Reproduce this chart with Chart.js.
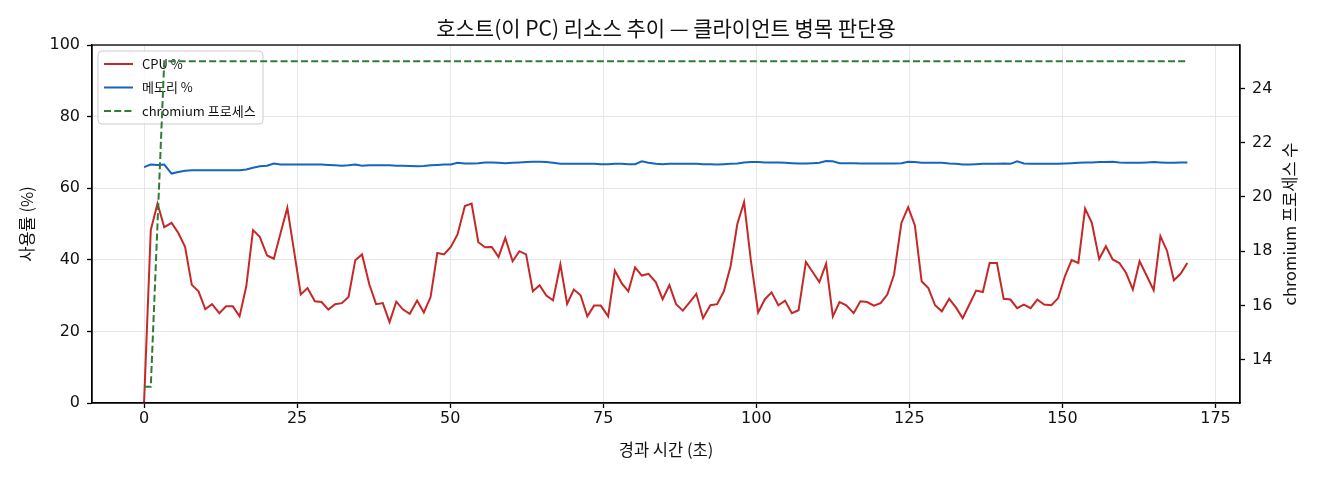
<!DOCTYPE html>
<html>
<head>
<meta charset="utf-8">
<script src="https://cdn.jsdelivr.net/npm/chart.js@4.4.1/dist/chart.umd.min.js"></script>
<style>
  html, body { margin: 0; padding: 0; background: #fff; }
  #wrap { width: 1320px; height: 480px; }
</style>
</head>
<body>
<div id="wrap"><canvas id="c" width="1320" height="480"></canvas></div>
<script>
// ---- data ----
const chartTitle = '호스트(이 PC) 리소스 추이 — 클라이언트 병목 판단용';
const xTitle = '경과 시간 (초)';
const yTitle = '사용률 (%)';
const y2Title = 'chromium 프로세스 수';
const seriesNames = ['CPU %', '메모리 %', 'chromium 프로세스'];

const xTicks = [0, 25, 50, 75, 100, 125, 150, 175];
const yTicks = [0, 20, 40, 60, 80, 100];
const y2Ticks = [14, 16, 18, 20, 22, 24];

const times = [
  0, 1.1, 2.2, 3.3, 4.5, 5.6, 6.7, 7.8, 8.9, 10.0,
  11.1, 12.3, 13.4, 14.5, 15.6, 16.7, 17.8, 18.9, 20.1, 21.2,
  22.3, 23.4, 24.5, 25.6, 26.7, 27.9, 29.0, 30.1, 31.2, 32.3,
  33.4, 34.5, 35.6, 36.8, 37.9, 39.0, 40.1, 41.2, 42.3, 43.4,
  44.6, 45.7, 46.8, 47.9, 49.0, 50.1, 51.2, 52.4, 53.5, 54.6,
  55.7, 56.8, 57.9, 59.0, 60.2, 61.3, 62.4, 63.5, 64.6, 65.7,
  66.8, 68.0, 69.1, 70.2, 71.3, 72.4, 73.5, 74.6, 75.8, 76.9,
  78.0, 79.1, 80.2, 81.3, 82.4, 83.6, 84.7, 85.8, 86.9, 88.0,
  89.1, 90.2, 91.3, 92.5, 93.6, 94.7, 95.8, 96.9, 98.0, 99.1,
  100.3, 101.4, 102.5, 103.6, 104.7, 105.8, 106.9, 108.1, 109.2, 110.3,
  111.4, 112.5, 113.6, 114.7, 115.9, 117.0, 118.1, 119.2, 120.3, 121.4,
  122.5, 123.7, 124.8, 125.9, 127.0, 128.1, 129.2, 130.3, 131.5, 132.6,
  133.7, 134.8, 135.9, 137.0, 138.1, 139.3, 140.4, 141.5, 142.6, 143.7,
  144.8, 145.9, 147.0, 148.2, 149.3, 150.4, 151.5, 152.6, 153.7, 154.8,
  156.0, 157.1, 158.2, 159.3, 160.4, 161.5, 162.6, 163.8, 164.9, 166.0,
  167.1, 168.2, 169.3, 170.4
];

const cpuPct = [
  0, 48.3, 55.7, 49.1, 50.3, 47.5, 43.6, 33.0, 31.2, 26.2,
  27.6, 25.1, 27.0, 27.0, 24.2, 32.6, 48.3, 46.4, 41.2, 40.3,
  47.5, 54.5, 42.5, 30.3, 32.1, 28.4, 28.2, 26.1, 27.6, 27.9,
  29.6, 39.9, 41.5, 33.1, 27.6, 27.9, 22.6, 28.3, 26.1, 24.9,
  28.6, 25.3, 29.6, 41.9, 41.5, 43.6, 47.1, 55.0, 55.7, 44.9,
  43.5, 43.6, 40.8, 46.1, 39.6, 42.4, 41.5, 31.2, 32.9, 30.0,
  28.7, 38.7, 27.7, 31.7, 30.1, 24.2, 27.2, 27.2, 24.2, 37.0,
  33.5, 31.2, 37.9, 35.6, 36.1, 33.7, 29.0, 32.9, 27.6, 25.8,
  28.1, 30.5, 23.7, 27.3, 27.6, 31.2, 38.2, 50.0, 56.1, 40.0,
  25.3, 29.0, 30.9, 27.3, 28.6, 25.1, 25.9, 39.4, 36.6, 33.8,
  38.9, 24.2, 28.2, 27.3, 25.1, 28.4, 28.2, 27.2, 27.9, 30.3,
  35.9, 50.3, 54.7, 49.6, 34.0, 32.1, 27.3, 25.6, 29.1, 26.7,
  23.7, 27.5, 31.4, 31.0, 39.1, 39.1, 29.1, 28.9, 26.5, 27.5,
  26.5, 28.9, 27.5, 27.3, 29.3, 35.4, 39.9, 39.1, 54.3, 50.3,
  40.2, 43.8, 40.1, 39.1, 36.3, 31.7, 39.6, 35.4, 31.5, 46.6,
  42.4, 34.3, 36.1, 39.1
];

const memPct = [
  65.9, 66.6, 66.5, 66.6, 64.1, 64.5, 64.9, 65.0, 65.0, 65.0,
  65.0, 65.0, 65.0, 65.0, 65.0, 65.2, 65.7, 66.1, 66.3, 66.9,
  66.6, 66.6, 66.6, 66.6, 66.6, 66.6, 66.6, 66.5, 66.4, 66.3,
  66.4, 66.6, 66.3, 66.4, 66.4, 66.4, 66.4, 66.3, 66.3, 66.2,
  66.1, 66.2, 66.4, 66.5, 66.6, 66.6, 67.1, 66.9, 66.9, 67.0,
  67.2, 67.2, 67.1, 67.0, 67.1, 67.2, 67.3, 67.4, 67.4, 67.3,
  67.1, 66.8, 66.8, 66.8, 66.8, 66.8, 66.8, 66.7, 66.7, 66.8,
  66.8, 66.7, 66.7, 67.5, 67.1, 66.8, 66.7, 66.8, 66.8, 66.8,
  66.8, 66.8, 66.7, 66.7, 66.6, 66.7, 66.8, 66.9, 67.2, 67.3,
  67.3, 67.2, 67.2, 67.2, 67.1, 67.0, 66.9, 66.9, 67.0, 67.1,
  67.6, 67.5, 67.0, 67.0, 67.0, 66.9, 66.9, 66.9, 66.9, 66.9,
  66.9, 67.0, 67.4, 67.3, 67.1, 67.1, 67.1, 67.1, 66.9, 66.8,
  66.6, 66.6, 66.7, 66.8, 66.8, 66.8, 66.9, 66.8, 67.5, 66.9,
  66.8, 66.8, 66.8, 66.8, 66.8, 66.9, 67.0, 67.1, 67.2, 67.2,
  67.3, 67.3, 67.4, 67.2, 67.1, 67.1, 67.1, 67.2, 67.3, 67.2,
  67.1, 67.1, 67.2, 67.2
];

const chromiumProcs = [
  13, 13, 19, 25, 25, 25, 25, 25, 25, 25,
  25, 25, 25, 25, 25, 25, 25, 25, 25, 25,
  25, 25, 25, 25, 25, 25, 25, 25, 25, 25,
  25, 25, 25, 25, 25, 25, 25, 25, 25, 25,
  25, 25, 25, 25, 25, 25, 25, 25, 25, 25,
  25, 25, 25, 25, 25, 25, 25, 25, 25, 25,
  25, 25, 25, 25, 25, 25, 25, 25, 25, 25,
  25, 25, 25, 25, 25, 25, 25, 25, 25, 25,
  25, 25, 25, 25, 25, 25, 25, 25, 25, 25,
  25, 25, 25, 25, 25, 25, 25, 25, 25, 25,
  25, 25, 25, 25, 25, 25, 25, 25, 25, 25,
  25, 25, 25, 25, 25, 25, 25, 25, 25, 25,
  25, 25, 25, 25, 25, 25, 25, 25, 25, 25,
  25, 25, 25, 25, 25, 25, 25, 25, 25, 25,
  25, 25, 25, 25, 25, 25, 25, 25, 25, 25,
  25, 25, 25, 25
];

// ---- styling ----
const KR = '"Noto Sans CJK KR", "Noto Sans", sans-serif';
const NUM = '"DejaVu Sans", sans-serif';
const COLORS = ['#c62828', '#1565c0', '#2e7d32'];
const DASH = [7, 3.2];
const GRID = '#e6e6e6';
const INK = '#111111';

const toXY = arr => arr.map((v, i) => ({ x: times[i], y: v }));

const fixedTicks = vals => scale => { scale.ticks = vals.map(v => ({ value: v })); };

const framePlugin = {
  id: 'frame',
  afterDatasetsDraw(chart) {
    const { ctx, chartArea: a } = chart;
    ctx.save();
    ctx.strokeStyle = '#000';
    ctx.lineWidth = 1.3;
    ctx.strokeRect(a.left, a.top, a.right - a.left, a.bottom - a.top);
    ctx.restore();
  }
};

const textPlugin = {
  id: 'texts',
  afterDraw(chart) {
    const { ctx, chartArea: a } = chart;
    ctx.save();
    ctx.fillStyle = INK;
    ctx.textAlign = 'center';
    ctx.textBaseline = 'middle';
    ctx.font = '21px ' + KR;
    ctx.fillText(chartTitle, (a.left + a.right) / 2, 28);
    // right axis title, reading bottom-to-top
    ctx.translate(1290, (a.top + a.bottom) / 2);
    ctx.rotate(-Math.PI / 2);
    ctx.font = '16.5px ' + KR;
    ctx.fillText(y2Title, 0, 0);
    ctx.restore();
  }
};

// legend belongs to the primary axes, so the secondary (process) line is drawn over it
const legendPlugin = {
  id: 'innerLegend',
  beforeDatasetDraw(chart, args) {
    if (args.index !== 2) return;
    const { ctx, chartArea: a } = chart;
    const x0 = a.left + 6, y0 = a.top + 6, w = 165, h = 73, r = 4;
    ctx.save();
    ctx.beginPath();
    ctx.moveTo(x0 + r, y0);
    ctx.arcTo(x0 + w, y0, x0 + w, y0 + h, r);
    ctx.arcTo(x0 + w, y0 + h, x0, y0 + h, r);
    ctx.arcTo(x0, y0 + h, x0, y0, r);
    ctx.arcTo(x0, y0, x0 + w, y0, r);
    ctx.closePath();
    ctx.fillStyle = 'rgba(255,255,255,0.8)';
    ctx.fill();
    ctx.strokeStyle = '#cccccc';
    ctx.lineWidth = 1;
    ctx.stroke();
    chart.data.datasets.forEach((ds, i) => {
      const yy = y0 + 13 + i * 23.5;
      ctx.beginPath();
      ctx.setLineDash(ds.borderDash || []);
      ctx.strokeStyle = ds.borderColor;
      ctx.lineWidth = ds.borderWidth;
      ctx.moveTo(x0 + 6, yy);
      ctx.lineTo(x0 + 35, yy);
      ctx.stroke();
      ctx.setLineDash([]);
      ctx.fillStyle = INK;
      ctx.font = '13px ' + KR;
      ctx.textAlign = 'left';
      ctx.textBaseline = 'middle';
      ctx.fillText(ds.label, x0 + 44, yy);
    });
    ctx.restore();
  }
};

new Chart(document.getElementById('c'), {
  type: 'line',
  data: {
    datasets: [
      { label: seriesNames[0], data: toXY(cpuPct), yAxisID: 'y', borderColor: COLORS[0],
        backgroundColor: COLORS[0], borderWidth: 2, pointRadius: 0, tension: 0, order: 1 },
      { label: seriesNames[1], data: toXY(memPct), yAxisID: 'y', borderColor: COLORS[1],
        backgroundColor: COLORS[1], borderWidth: 2, pointRadius: 0, tension: 0, order: 2 },
      { label: seriesNames[2], data: toXY(chromiumProcs), yAxisID: 'y2', borderColor: COLORS[2],
        backgroundColor: COLORS[2], borderWidth: 2, borderDash: DASH, pointRadius: 0, tension: 0, order: 0 }
    ]
  },
  options: {
    responsive: false,
    animation: false,
    layout: { padding: { top: 45, left: 0, right: 0, bottom: 0 } },
    plugins: { legend: { display: false }, tooltip: { enabled: false }, title: { display: false } },
    scales: {
      x: {
        type: 'linear', position: 'bottom', min: -8.5, max: 179,
        afterBuildTicks: fixedTicks(xTicks),
        afterFit: s => { s.height = 77; },
        ticks: { autoSkip: false, maxRotation: 0, padding: 1, color: INK, font: { family: NUM, size: 16 } },
        grid: { color: GRID, lineWidth: 1, tickColor: '#000', tickWidth: 1.3, tickLength: 5 },
        border: { display: true, color: '#000', width: 1.3 },
        title: { display: true, text: xTitle, color: INK, font: { family: KR, size: 16.5 }, padding: { top: 0, bottom: 20 } }
      },
      y: {
        type: 'linear', position: 'left', min: 0, max: 100,
        afterBuildTicks: fixedTicks(yTicks),
        afterFit: s => { s.width = 92; },
        ticks: { padding: 7, color: INK, font: { family: NUM, size: 16 } },
        grid: { color: GRID, lineWidth: 1, tickColor: '#000', tickWidth: 1.3, tickLength: 5 },
        border: { display: true, color: '#000', width: 1.3 },
        title: { display: true, text: yTitle, color: INK, font: { family: KR, size: 16.5 }, padding: { top: 17, bottom: 0 } }
      },
      y2: {
        type: 'linear', position: 'right', min: 12.4, max: 25.6,
        afterBuildTicks: fixedTicks(y2Ticks),
        afterFit: s => { s.width = 80; },
        ticks: { padding: 7, color: INK, font: { family: NUM, size: 16 } },
        grid: { drawOnChartArea: false, color: GRID, tickColor: '#000', tickWidth: 1.3, tickLength: 5 },
        border: { display: true, color: '#000', width: 1.3 }
      }
    }
  },
  plugins: [legendPlugin, framePlugin, textPlugin]
});
</script>
</body>
</html>
